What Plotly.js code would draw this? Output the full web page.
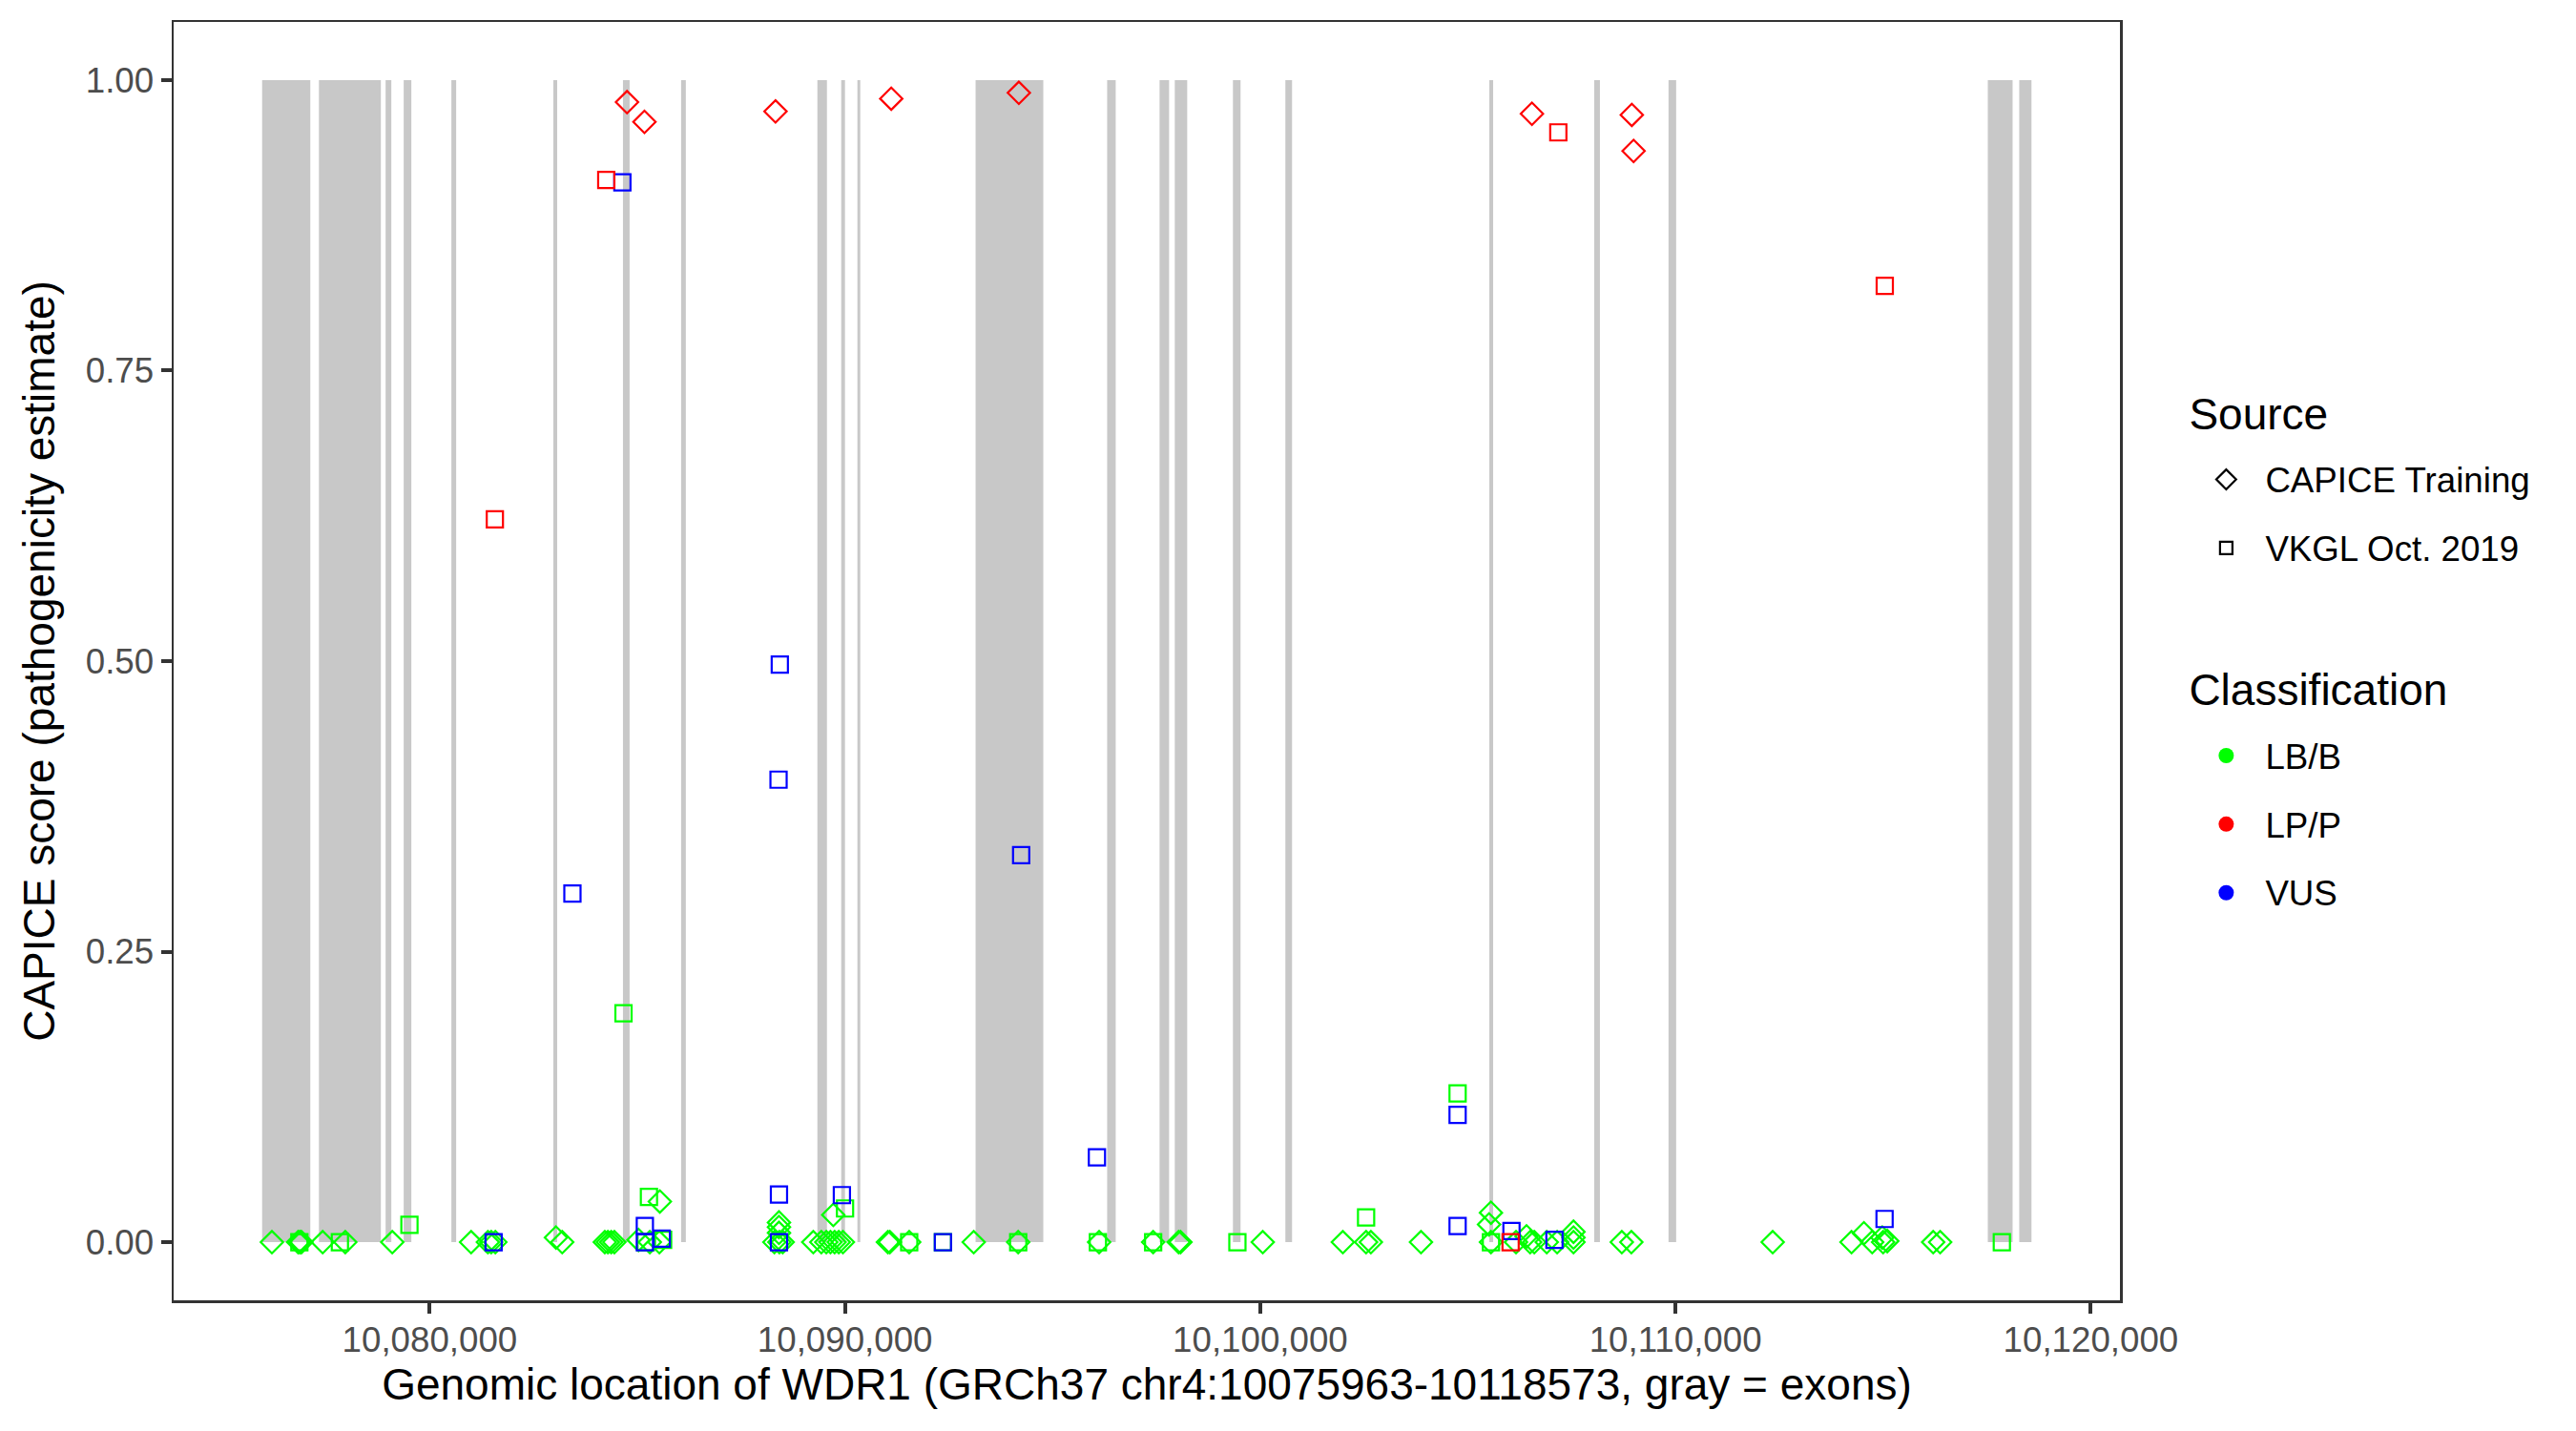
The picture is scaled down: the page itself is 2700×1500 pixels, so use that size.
<!DOCTYPE html>
<html>
<head>
<meta charset="utf-8">
<script src="https://cdn.plot.ly/plotly-3.0.1.min.js"></script>
<style>html,body{margin:0;padding:0;background:#fff;}#chart{width:2700px;height:1500px;}</style>
</head>
<body>
<div id="chart"></div>
<script>
// Exons of WDR1 (gray bands)
const exonStart = [10075963,10077331,10078937,10079373,10080521,10082977,10084653,10086053,10089335,10089909,10090299,10093145,10096313,10097575,10097942,10099342,10100605,10105517,10108042,10109832,10117521,10118278];
const exonEnd   = [10077124,10078823,10079075,10079557,10080636,10083069,10084813,10086167,10089565,10090000,10090368,10094775,10096519,10097805,10098241,10099526,10100766,10105609,10108180,10110016,10118118,10118573];

// CAPICE Training, LB/B (green diamonds)
const capLB_x = [10076199,10076830,10076870,10076910,10077422,10077966,10079098,10080996,10081400,10081480,10081580,10083039,10083190,10084216,10084290,10084370,10084446,10085027,10085300,10085541,10085530,
  10088300,10088420,10088500,10088410,10088410,10088410,10089236,10089430,10089550,10089650,10089750,10089850,10089950,10089718,10091033,10091080,10091546,10093100,10094171,10096120,
  10097421,10098034,10098080,10100061,10101989,10102549,10102664,10103871,10105556,10105510,10105556,10106160,10106412,10106500,10106600,10106900,10107150,10107544,10107544,10107544,
  10108707,10108937,10112341,10114239,10114537,10114737,10114980,10115000,10115100,10116206,10116374];
const capLB_y = [0,0,0,0,0,0,0,0,0,0,0,0.004,0,0,0,0,0,0.002,0,0.035,0,
  0,0,0,0.017,0.013,0.008,0,0,0,0,0,0,0,0.0235,0,0,0,0,0,0,
  0,0,0,0,0,0,0,0,0.0254,0.0153,0,0,0.005,0,0,0,0,0.009,0.004,0,
  0,0,0,0,0.0077,0,0.004,0,0.001,0,0];

// CAPICE Training, LP/P (red diamonds)
const capLP_x = [10084751,10085171,10088327,10091114,10094187,10106543,10108948,10108991];
const capLP_y = [0.981,0.964,0.973,0.984,0.989,0.971,0.970,0.939];

// VKGL Oct. 2019, LB/B (green squares)
const vkglLB_x = [10076860,10077836,10079511,10084666,10085200,10085279,10085620,10090001,10091546,10092358,10094171,10096090,10097421,10099450,10102549,10104753,10105556,10117859];
const vkglLB_y = [0,0,0.015,0.197,0,0.039,0.002,0.029,0,0,0,0,0,0,0.0213,0.128,0,0];

// VKGL Oct. 2019, LP/P (red squares)
const vkglLP_x = [10081568,10084251,10106029,10107178,10115040];
const vkglLP_y = [0.622,0.914,0,0.955,0.823];

// VKGL Oct. 2019, VUS (blue squares)
const vkglVUS_x = [10081538,10083436,10084639,10085180,10085180,10085587,10088430,10088400,10088410,10088410,10089925,10092358,10094242,10096067,10104753,10104753,10106050,10107085,10115035];
const vkglVUS_y = [0,0.300,0.912,0.014,0,0.003,0.497,0.398,0.041,0,0.0405,0,0.333,0.073,0.1095,0.014,0.0096,0.002,0.020];

const xTickVals = [10080000,10090000,10100000,10110000,10120000];
const xTickText = ['10,080,000','10,090,000','10,100,000','10,110,000','10,120,000'];
const yTickVals = [0,0.25,0.5,0.75,1];
const yTickText = ['0.00','0.25','0.50','0.75','1.00'];

const sourceNames = ['CAPICE Training','VKGL Oct. 2019'];
const classNames = ['LB/B','LP/P','VUS'];
const classColors = {'LB/B':'#00FF00','LP/P':'#FF0000','VUS':'#0000FF'};

const FONT = 'Liberation Sans, Arial, Helvetica, sans-serif';
const DIA = 18, SQ = 17, LW = 2.2;

function pts(x, y, symbol, color, size) {
  return {type:'scatter', mode:'markers', x:x, y:y, showlegend:false, hoverinfo:'skip',
    marker:{symbol:symbol, color:color, size:size, line:{width:LW, color:color}}};
}
function legText(t) {
  return '<span style="font-size:36.7px;baseline-shift:7px">' + t + '</span>';
}
function legTitle(t) {
  return '<span style="font-size:46px;baseline-shift:12px">' + t + '</span>';
}

const traces = [
  pts(capLB_x, capLB_y, 'diamond-open', classColors['LB/B'], DIA),
  pts(vkglLB_x, vkglLB_y, 'square-open', classColors['LB/B'], SQ),
  pts(vkglVUS_x, vkglVUS_y, 'square-open', classColors['VUS'], SQ),
  pts(capLP_x, capLP_y, 'diamond-open', classColors['LP/P'], DIA),
  pts(vkglLP_x, vkglLP_y, 'square-open', classColors['LP/P'], SQ),
  // legend entries
  {type:'scatter', mode:'markers', x:[null], y:[null], name:legText(sourceNames[0]), legend:'legend', showlegend:true,
    marker:{symbol:'diamond-open', color:'#000', size:16, line:{width:LW, color:'#000'}}},
  {type:'scatter', mode:'markers', x:[null], y:[null], name:legText(sourceNames[1]), legend:'legend', showlegend:true,
    marker:{symbol:'square-open', color:'#000', size:13, line:{width:LW, color:'#000'}}},
];
classNames.forEach(c => traces.push({type:'scatter', mode:'markers', x:[null], y:[null], name:legText(c), legend:'legend2', showlegend:true,
  marker:{symbol:'circle', color:classColors[c], size:16}}));

const shapes = exonStart.map((s,i) => ({type:'rect', xref:'x', yref:'y', x0:s, x1:exonEnd[i], y0:0, y1:1,
  fillcolor:'#C8C8C8', line:{width:0}, layer:'below'}));

const axisCommon = {
  showgrid:false, zeroline:false, showline:true, mirror:true, linecolor:'#333333', linewidth:2.5,
  ticks:'outside', ticklen:11, tickwidth:4, tickcolor:'#333333',
  tickfont:{family:FONT, size:36.7, color:'#4D4D4D'}, tickmode:'array'
};

const legendCommon = {
  xanchor:'left', yanchor:'top', bgcolor:'rgba(0,0,0,0)', borderwidth:0,
  font:{family:FONT, size:53, color:'#000'}, itemwidth:72, tracegroupgap:0
};

const layout = {
  width:2700, height:1500,
  margin:{l:182, r:478, t:23, b:137, pad:0},
  paper_bgcolor:'#fff', plot_bgcolor:'#fff',
  font:{family:FONT, color:'#000'},
  shapes:shapes,
  xaxis:Object.assign({}, axisCommon, {
    range:[10073832.5, 10120703.5], tickvals:xTickVals, ticktext:xTickText, ticklabelstandoff:-4,
    title:{text:'Genomic location of WDR1 (GRCh37 chr4:10075963-10118573, gray = exons)', font:{family:FONT, size:46, color:'#000'}, standoff:9}
  }),
  yaxis:Object.assign({}, axisCommon, {
    range:[-0.05, 1.05], tickvals:yTickVals, ticktext:yTickText,
    title:{text:'CAPICE score (pathogenicity estimate)', font:{family:FONT, size:46, color:'#000'}, standoff:18}
  }),
  legend:Object.assign({}, legendCommon, {x:1.0345, y:0.728, title:{text:legTitle('Source'), font:{family:FONT, size:57, color:'#000'}}}),
  legend2:Object.assign({}, legendCommon, {x:1.0345, y:0.512, title:{text:legTitle('Classification'), font:{family:FONT, size:57, color:'#000'}}}),
  showlegend:true
};

Plotly.newPlot('chart', traces, layout, {displayModeBar:false, staticPlot:true});
</script>
</body>
</html>
